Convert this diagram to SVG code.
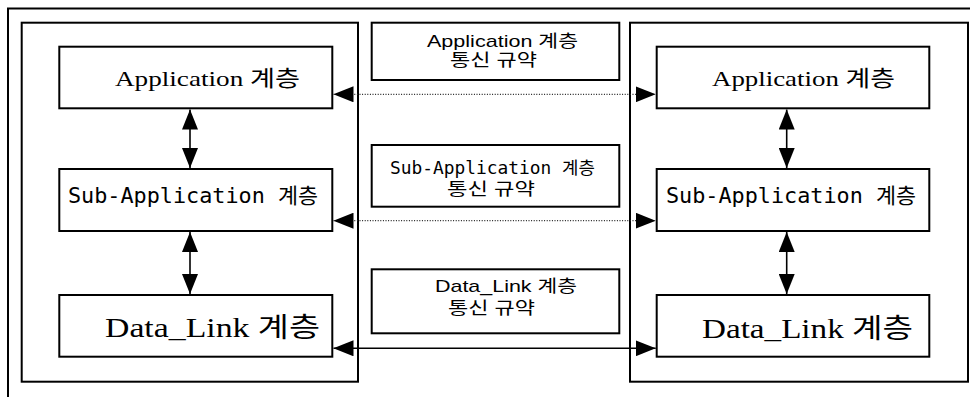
<svg xmlns="http://www.w3.org/2000/svg" width="970" height="397" viewBox="0 0 970 397">
  <style>
    .frame { fill: none; stroke: #000; stroke-width: 2; }
    .box { fill: #fff; stroke: #000; stroke-width: 2; }
    .serif { font-family: "Liberation Serif", "Noto Sans CJK KR", serif; fill: #000; }
    .mono { font-family: "DejaVu Sans Mono", "Noto Sans CJK KR", monospace; fill: #000; }
    .sans { font-family: "Liberation Sans", "Noto Sans CJK KR", sans-serif; fill: #000; }
    .dot { stroke: #222; stroke-width: 1.3; stroke-dasharray: 1 1.6; fill: none; }
    .solid { stroke: #000; stroke-width: 1.6; fill: none; }
  </style>
  <defs>
    <marker id="head" markerUnits="userSpaceOnUse" markerWidth="20" markerHeight="16" refX="20" refY="8" orient="auto-start-reverse">
      <path d="M0,0 L20,8 L0,16 z" fill="#000"/>
    </marker>
  </defs>

  <rect width="970" height="397" fill="#fff"/>

  <!-- outer frame (runs off the right and bottom edges) -->
  <path class="frame" d="M8,397 V8.5 H970"/>

  <!-- left and right stacks -->
  <rect id="left-stack" class="frame" x="21.7" y="22.7" width="336.3" height="359"/>
  <rect id="right-stack" class="frame" x="630" y="22.7" width="338" height="359"/>

  <!-- left stack layers -->
  <g id="left-application">
    <rect class="box" x="59.3" y="46.7" width="273" height="61.6"/>
    <text class="serif" x="115" y="86" font-size="22" textLength="185" lengthAdjust="spacingAndGlyphs">Application 계층</text>
  </g>
  <g id="left-sub-application">
    <rect class="box" x="59.3" y="169" width="273" height="62"/>
    <text class="mono" x="68" y="203" font-size="21" textLength="250" lengthAdjust="spacingAndGlyphs">Sub-Application 계층</text>
  </g>
  <g id="left-data-link">
    <rect class="box" x="59.3" y="295" width="273" height="61.7"/>
    <text class="serif" x="105" y="337" font-size="27" textLength="215" lengthAdjust="spacingAndGlyphs">Data_Link 계층</text>
  </g>

  <!-- right stack layers -->
  <g id="right-application">
    <rect class="box" x="656.7" y="46.7" width="272.6" height="61.6"/>
    <text class="serif" x="712" y="86" font-size="22" textLength="183" lengthAdjust="spacingAndGlyphs">Application 계층</text>
  </g>
  <g id="right-sub-application">
    <rect class="box" x="656.7" y="169" width="272.6" height="62"/>
    <text class="mono" x="666" y="203" font-size="21" textLength="250" lengthAdjust="spacingAndGlyphs">Sub-Application 계층</text>
  </g>
  <g id="right-data-link">
    <rect class="box" x="656.7" y="295" width="272.6" height="61.7"/>
    <text class="serif" x="702" y="338" font-size="27" textLength="211" lengthAdjust="spacingAndGlyphs">Data_Link 계층</text>
  </g>

  <!-- protocol labels between the stacks -->
  <g id="application-protocol">
    <rect class="box" x="371.7" y="22.7" width="247.6" height="57.3"/>
    <text class="sans" x="427" y="47" font-size="17" textLength="151" lengthAdjust="spacingAndGlyphs">Application 계층</text>
    <text class="sans" x="450" y="66" font-size="17" textLength="87" lengthAdjust="spacingAndGlyphs">통신 규약</text>
  </g>
  <g id="sub-application-protocol">
    <rect class="box" x="371.7" y="145" width="247.6" height="61.7"/>
    <text class="mono" x="390" y="174" font-size="17" textLength="205" lengthAdjust="spacingAndGlyphs">Sub-Application 계층</text>
    <text class="sans" x="447" y="195" font-size="17" textLength="88" lengthAdjust="spacingAndGlyphs">통신 규약</text>
  </g>
  <g id="data-link-protocol">
    <rect class="box" x="371.7" y="269.3" width="247.6" height="64"/>
    <text class="sans" x="435" y="292" font-size="17" textLength="142" lengthAdjust="spacingAndGlyphs">Data_Link 계층</text>
    <text class="sans" x="448" y="314" font-size="17" textLength="87" lengthAdjust="spacingAndGlyphs">통신 규약</text>
  </g>

  <!-- connectors -->
  <g id="connectors">
    <line class="dot" x1="333.5" y1="94.3" x2="655.7" y2="94.3" marker-start="url(#head)" marker-end="url(#head)"/>
    <line class="dot" x1="333.5" y1="220.7" x2="655.7" y2="220.7" marker-start="url(#head)" marker-end="url(#head)"/>
    <line class="solid" x1="333.5" y1="348.3" x2="655.7" y2="348.3" marker-start="url(#head)" marker-end="url(#head)"/>

    <line class="solid" x1="190" y1="109.5" x2="190" y2="168" marker-start="url(#head)" marker-end="url(#head)"/>
    <line class="solid" x1="190" y1="232" x2="190" y2="294" marker-start="url(#head)" marker-end="url(#head)"/>
    <line class="solid" x1="786.7" y1="109.5" x2="786.7" y2="168" marker-start="url(#head)" marker-end="url(#head)"/>
    <line class="solid" x1="786.7" y1="232" x2="786.7" y2="294" marker-start="url(#head)" marker-end="url(#head)"/>
  </g>
</svg>
